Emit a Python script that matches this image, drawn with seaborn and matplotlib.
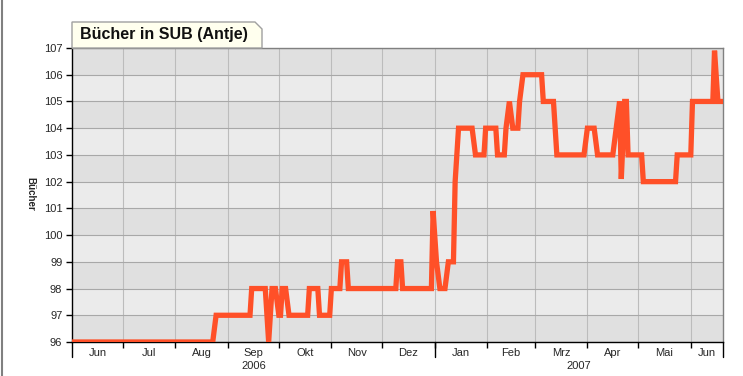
import matplotlib
matplotlib.use("Agg")
import matplotlib.pyplot as plt
import matplotlib.dates as mdates
from matplotlib.patches import Polygon
import seaborn as sns
import pandas as pd
import numpy as np

# ---- data ----
dates = [
    "2006-06-01", "2006-08-23", "2006-08-25", "2006-09-14", "2006-09-15",
    "2006-09-23", "2006-09-25", "2006-09-27", "2006-09-29", "2006-10-01",
    "2006-10-02", "2006-10-03", "2006-10-05", "2006-10-07", "2006-10-18",
    "2006-10-19", "2006-10-24", "2006-10-25", "2006-10-31", "2006-11-01",
    "2006-11-06", "2006-11-07", "2006-11-10", "2006-11-11", "2006-12-09",
    "2006-12-10", "2006-12-12", "2006-12-13", "2006-12-30", "2006-12-31",
    "2007-01-02", "2007-01-04", "2007-01-07", "2007-01-09", "2007-01-12",
    "2007-01-13", "2007-01-15", "2007-01-23", "2007-01-25", "2007-01-30",
    "2007-01-31", "2007-02-06", "2007-02-07", "2007-02-11", "2007-02-12",
    "2007-02-14", "2007-02-16", "2007-02-19", "2007-02-20", "2007-02-22",
    "2007-03-05", "2007-03-06", "2007-03-12", "2007-03-14", "2007-03-30",
    "2007-04-01", "2007-04-05", "2007-04-07", "2007-04-16", "2007-04-18",
    "2007-04-20", "2007-04-21", "2007-04-23", "2007-04-24", "2007-04-25",
    "2007-05-03", "2007-05-04", "2007-05-23", "2007-05-24", "2007-06-01",
    "2007-06-02", "2007-06-14", "2007-06-15", "2007-06-17", "2007-06-20",
]
buecher = [
    96, 96, 97, 97, 98,
    98, 96, 98, 98, 97,
    97, 98, 98, 97, 97,
    98, 98, 97, 97, 98,
    98, 99, 99, 98, 98,
    99, 99, 98, 98, 100.9,
    99, 98, 98, 99, 99,
    102, 104, 104, 103, 103,
    104, 104, 103, 103, 104,
    105, 104, 104, 105, 106,
    106, 105, 105, 103, 103,
    104, 104, 103, 103, 104,
    105, 102.1, 105, 105, 103,
    103, 102, 102, 103, 103,
    105, 105, 106.9, 105, 105,
]
month_labels = ["Jun", "Jul", "Aug", "Sep", "Okt", "Nov", "Dez",
                "Jan", "Feb", "Mrz", "Apr", "Mai", "Jun"]
year_labels = ["2006", "2007"]
y_ticks = list(range(96, 108))
title = "Bücher in SUB (Antje)"
y_label = "Bücher"

df = pd.DataFrame({"Datum": pd.to_datetime(dates), "Bücher": buecher})

sns.set_style("white")
plt.rcParams["font.family"] = ["Liberation Sans", "DejaVu Sans"]

W, H = 743, 376
fig = plt.figure(figsize=(W / 100, H / 100), dpi=100)
L, R, T, B = 72, 723, 48, 342
ax = fig.add_axes([L / W, 1 - B / H, (R - L) / W, (B - T) / H])

x0 = pd.Timestamp("2006-06-01")
x1 = pd.Timestamp("2007-06-20")

# alternating bands
for i, lo in enumerate(y_ticks[:-1]):
    ax.axhspan(lo, lo + 1, color="#e0e0e0" if i % 2 == 0 else "#ebebeb",
               zorder=0, lw=0)

sns.lineplot(data=df, x="Datum", y="Bücher", ax=ax, color="#ff5028",
             linewidth=3.8, zorder=5, solid_joinstyle="miter")

ax.set_xlim(x0, x1)
ax.set_ylim(96, 107)
ax.set_yticks(y_ticks)
ax.set_yticklabels([str(v) for v in y_ticks], fontsize=8)

month_starts = pd.date_range("2006-07-01", "2007-06-01", freq="MS")
ax.set_xticks(month_starts)
ax.set_xticklabels([])
mids = []
all_starts = list(pd.date_range("2006-06-01", "2007-06-01", freq="MS")) + [x1]
for a, b in zip(all_starts[:-1], all_starts[1:]):
    mids.append(a + (b - a) / 2)
ax.set_xticks(mids, minor=True)
ax.set_xticklabels(month_labels, minor=True, fontsize=8)
ax.tick_params(axis="x", which="minor", length=0, pad=4)
ax.tick_params(axis="x", which="major", length=4, width=1, color="black",
               direction="out")
ax.tick_params(axis="y", length=4, width=1, color="black", direction="out",
               pad=3)
ax.tick_params(axis="both", which="both", bottom=True, left=True)

ax.grid(True, axis="y", color="#a8a8a8", linewidth=0.8, zorder=1)
ax.grid(True, axis="x", which="major", color="#bcbcbc", linewidth=0.8, zorder=1)
ax.set_axisbelow(True)

for s in ["top", "right"]:
    ax.spines[s].set_color("#808080")
    ax.spines[s].set_linewidth(1)
for s in ["left", "bottom"]:
    ax.spines[s].set_color("black")
    ax.spines[s].set_linewidth(1)

# long year-boundary ticks
xt = ax.get_xaxis_transform()
for d in [x0, pd.Timestamp("2007-01-01"), x1]:
    ax.plot([d, d], [0, -15 / (B - T)], transform=xt, color="black",
            lw=1, clip_on=False, zorder=6)

# year labels
ax.text(x0 + (pd.Timestamp("2007-01-01") - x0) / 2, -24 / (B - T),
        year_labels[0], transform=xt, ha="center", va="center", fontsize=8)
ax.text(pd.Timestamp("2007-01-01") + (x1 - pd.Timestamp("2007-01-01")) / 2,
        -24 / (B - T), year_labels[1], transform=xt, ha="center",
        va="center", fontsize=8)

ax.set_xlabel("")
ax.set_ylabel("")
fig.text(30 / W, 1 - 194 / H, y_label, fontsize=7, fontweight="bold",
         rotation=270, ha="center", va="center")

# title tab
def fp(x, y):
    return (x / W, 1 - y / H)

tab = Polygon([fp(72, 48), fp(72, 22), fp(255, 22), fp(262, 29), fp(262, 48)],
              closed=True, transform=fig.transFigure, facecolor="#ffffee",
              edgecolor="#a0a0a0", lw=1, zorder=10)
fig.add_artist(tab)
fig.text(80 / W, 1 - 35 / H, title, fontsize=11.5, fontweight="bold",
         ha="left", va="center", color="#101010", zorder=11)

# window frame at left
fig.add_artist(plt.Line2D([1.5 / W, 1.5 / W], [0, 1], transform=fig.transFigure,
                          color="#808080", lw=1.5))

fig.savefig("out.png", dpi=100)
